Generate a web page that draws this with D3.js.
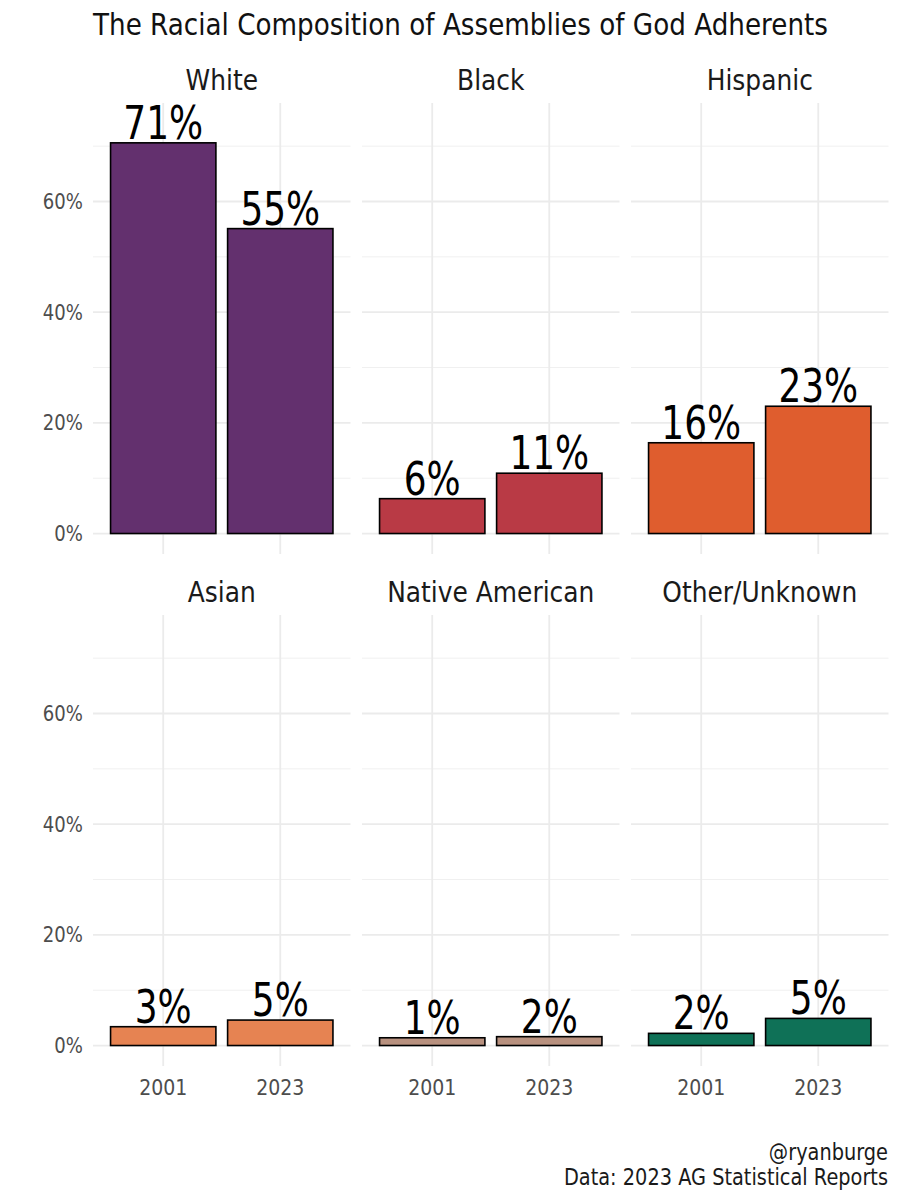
<!DOCTYPE html>
<html>
<head>
<meta charset="utf-8">
<script src="https://cdn.jsdelivr.net/npm/d3@7"></script>
<style>
  body { margin: 0; background: #fff; }
  svg text { font-family: "DejaVu Sans", sans-serif; }
</style>
</head>
<body>
<svg id="chart" width="900" height="1200"></svg>
<script>
const groups = ['White', 'Black', 'Hispanic', 'Asian', 'Native American', 'Other/Unknown'];
const years = ['2001', '2023'];
const share2001 = [70.6, 6.3, 16.4, 3.4, 1.4, 2.2];
const share2023 = [55.1, 10.9, 23.0, 4.6, 1.6, 4.9];
const groupColours = ['#63306e', '#b93a45', '#df5d2e', '#e68352', '#b8917f', '#0f7157'];
const yTicks = [0, 20, 40, 60];
const yMinor = [10, 30, 50, 70];

const svg = d3.select('#chart');

const panelW = 257.5;
const panelH = 451;
const panelX = [93, 362, 631];
const panelY = [103, 615];

const x = d3.scaleBand().domain(years).range([0, panelW]).paddingOuter(0.1).paddingInner(0);
const y = d3.scaleLinear().domain([-3.7, 77.8]).range([panelH, 0]);
const barW = x.bandwidth() * 0.9;

// narrow glyphs a little so DejaVu sits closer to the original condensed face
const squeeze = 0.86;

svg.append('text')
  .attr('transform', `translate(93, 35) scale(${squeeze}, 1)`)
  .attr('font-size', 30.5)
  .attr('fill', '#111')
  .text('The Racial Composition of Assemblies of God Adherents');

groups.forEach((group, i) => {
  const col = i % 3;
  const row = Math.floor(i / 3);
  const g = svg.append('g').attr('transform', `translate(${panelX[col]}, ${panelY[row]})`);

  // grid
  g.selectAll('.minor')
    .data(yMinor)
    .join('line')
    .attr('x1', 0).attr('x2', panelW)
    .attr('y1', (d) => y(d)).attr('y2', (d) => y(d))
    .attr('stroke', '#f0f0f0').attr('stroke-width', 1);
  g.selectAll('.major')
    .data(yTicks)
    .join('line')
    .attr('x1', 0).attr('x2', panelW)
    .attr('y1', (d) => y(d)).attr('y2', (d) => y(d))
    .attr('stroke', '#ebebeb').attr('stroke-width', 1.8);
  g.selectAll('.vgrid')
    .data(years)
    .join('line')
    .attr('x1', (d) => x(d) + x.bandwidth() / 2).attr('x2', (d) => x(d) + x.bandwidth() / 2)
    .attr('y1', 0).attr('y2', panelH)
    .attr('stroke', '#ebebeb').attr('stroke-width', 1.8);

  // strip label
  svg.append('text')
    .attr('transform', `translate(${panelX[col] + panelW / 2}, ${panelY[row] - 13}) scale(${squeeze}, 1)`)
    .attr('text-anchor', 'middle')
    .attr('font-size', 29)
    .attr('fill', '#1a1a1a')
    .text(group);

  const rows = years.map((yr, j) => ({ year: yr, value: j === 0 ? share2001[i] : share2023[i] }));

  g.selectAll('rect')
    .data(rows)
    .join('rect')
    .attr('x', (d) => x(d.year) + (x.bandwidth() - barW) / 2)
    .attr('width', barW)
    .attr('y', (d) => y(d.value))
    .attr('height', (d) => y(0) - y(d.value))
    .attr('fill', groupColours[i])
    .attr('stroke', '#000')
    .attr('stroke-width', 1.6);

  g.selectAll('.val')
    .data(rows)
    .join('text')
    .attr('transform', (d) => `translate(${x(d.year) + x.bandwidth() / 2}, ${y(d.value) - 4}) scale(0.78, 1)`)
    .attr('text-anchor', 'middle')
    .attr('font-size', 46)
    .attr('fill', '#000')
    .text((d) => `${Math.round(d.value)}%`);

  if (col === 0) {
    g.selectAll('.ytick')
      .data(yTicks)
      .join('text')
      .attr('transform', (d) => `translate(-10, ${y(d)}) scale(${squeeze}, 1)`)
      .attr('dy', '0.35em')
      .attr('text-anchor', 'end')
      .attr('font-size', 21)
      .attr('fill', '#4d4d4d')
      .text((d) => `${d}%`);
  }
  if (row === 1) {
    g.selectAll('.xtick')
      .data(years)
      .join('text')
      .attr('transform', (d) => `translate(${x(d) + x.bandwidth() / 2}, ${panelH + 29}) scale(${squeeze}, 1)`)
      .attr('text-anchor', 'middle')
      .attr('font-size', 22)
      .attr('fill', '#4d4d4d')
      .text((d) => d);
  }
});

svg.append('text')
  .attr('transform', `translate(888, 1160) scale(${squeeze}, 1)`)
  .attr('text-anchor', 'end')
  .attr('font-size', 22.5)
  .attr('fill', '#1a1a1a')
  .text('@ryanburge');
svg.append('text')
  .attr('transform', `translate(888, 1185) scale(${squeeze}, 1)`)
  .attr('text-anchor', 'end')
  .attr('font-size', 22.5)
  .attr('fill', '#1a1a1a')
  .text('Data: 2023 AG Statistical Reports');
</script>
</body>
</html>
